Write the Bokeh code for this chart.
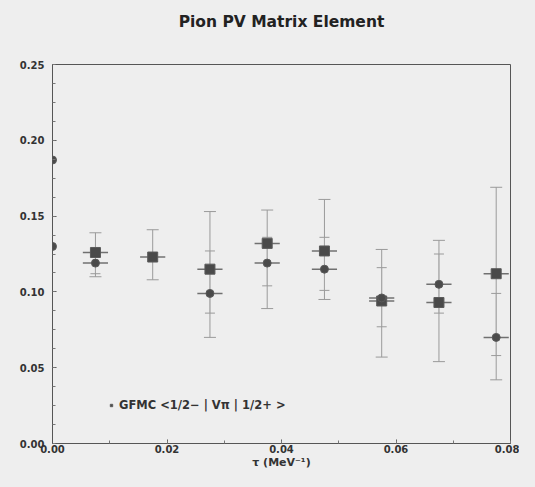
from bokeh.plotting import figure
from bokeh.models import (Range1d, FixedTicker, NumeralTickFormatter, ColumnDataSource,
                          Whisker, TeeHead, Legend, LegendItem, LinearAxis)
from bokeh.embed import file_html
from bokeh.resources import INLINE

# ---- data ----
tau_sq = [0.0075, 0.0175, 0.0275, 0.0375, 0.0475, 0.0575, 0.0675, 0.0775]
val_sq = [0.126, 0.123, 0.115, 0.132, 0.127, 0.094, 0.093, 0.112]
lo_sq = [0.110, 0.108, 0.070, 0.089, 0.095, 0.057, 0.054, 0.042]
hi_sq = [0.139, 0.141, 0.153, 0.154, 0.161, 0.128, 0.134, 0.169]

tau_ci = [0.0075, 0.0275, 0.0375, 0.0475, 0.0575, 0.0675, 0.0775]
val_ci = [0.119, 0.099, 0.119, 0.115, 0.096, 0.105, 0.070]
lo_ci = [0.112, 0.086, 0.104, 0.101, 0.077, 0.086, 0.058]
hi_ci = [0.128, 0.127, 0.136, 0.136, 0.116, 0.125, 0.099]

tau_zero = [0.0, 0.0]
val_zero = [0.187, 0.130]

tau_half_width = 0.0022

y_ticks = [0.00, 0.05, 0.10, 0.15, 0.20, 0.25]
x_ticks = [0.00, 0.02, 0.04, 0.06, 0.08]

title_text = "Pion PV Matrix Element"

FONT = "DejaVu Sans"
BG = "#eeeeee"
INK = "#333333"

p = figure(width=519, height=471, output_backend="svg", toolbar_location=None,
           x_range=Range1d(0, 0.08), y_range=Range1d(0, 0.25),
           min_border_left=52, min_border_right=9, min_border_top=64, min_border_bottom=28)
p.background_fill_color = BG
p.border_fill_color = BG
p.outline_line_color = "#555555"
p.outline_line_width = 1
p.grid.visible = False

xax = p.below[0]
yax = p.left[0]

for ax in (xax, yax):
    ax.axis_line_color = "#555555"
    ax.major_tick_in = 4
    ax.major_tick_out = 0
    ax.minor_tick_in = 3
    ax.minor_tick_out = 0
    ax.major_tick_line_color = "#555555"
    ax.minor_tick_line_color = "#777777"
    ax.major_label_text_font = FONT
    ax.major_label_text_font_size = "10px"
    ax.major_label_text_font_style = "bold"
    ax.major_label_text_color = INK
    ax.formatter = NumeralTickFormatter(format="0.00")

yax.ticker = FixedTicker(ticks=y_ticks, minor_ticks=[i * 0.0125 for i in range(21)])
yax.major_label_standoff = 8
xax.ticker = FixedTicker(ticks=x_ticks, minor_ticks=[i * 0.01 for i in range(9)])
xax.major_label_standoff = 1
xax.axis_label = "τ (MeV⁻¹)"
xax.axis_label_text_font = FONT
xax.axis_label_text_font_size = "11px"
xax.axis_label_text_font_style = "bold"
xax.axis_label_text_color = INK
xax.axis_label_standoff = 0

# title: the label of a bare axis above the frame
top = LinearAxis(ticker=FixedTicker(ticks=[]), axis_label=title_text,
                 axis_line_alpha=0, major_tick_in=0, major_tick_out=0,
                 minor_tick_in=0, minor_tick_out=0,
                 axis_label_standoff=34, axis_label_text_font=FONT,
                 axis_label_text_font_size="15.5px", axis_label_text_font_style="bold",
                 axis_label_text_color="#222222")
p.add_layout(top, "above")

src_sq = ColumnDataSource(dict(
    x=tau_sq, y=val_sq, lo=lo_sq, hi=hi_sq,
    xl=[t - tau_half_width for t in tau_sq], xr=[t + tau_half_width for t in tau_sq]))
src_ci = ColumnDataSource(dict(
    x=tau_ci, y=val_ci, lo=lo_ci, hi=hi_ci,
    xl=[t - tau_half_width for t in tau_ci], xr=[t + tau_half_width for t in tau_ci]))

# vertical error bars
p.add_layout(Whisker(source=src_sq, base="x", upper="hi", lower="lo", dimension="height",
                     line_color="#9a9a9a", line_width=1,
                     upper_head=TeeHead(size=12, line_color="#9a9a9a"),
                     lower_head=TeeHead(size=12, line_color="#9a9a9a")))
p.add_layout(Whisker(source=src_ci, base="x", upper="hi", lower="lo", dimension="height",
                     line_color="#aaaaaa", line_width=1, line_alpha=0.6,
                     upper_head=TeeHead(size=10, line_color="#9a9a9a"),
                     lower_head=TeeHead(size=10, line_color="#9a9a9a")))
# horizontal bars through the points
p.segment(x0="xl", y0="y", x1="xr", y1="y", source=src_sq, line_color="#707070", line_width=1.5)
p.segment(x0="xl", y0="y", x1="xr", y1="y", source=src_ci, line_color="#707070", line_width=1.5)

r_sq = p.scatter("x", "y", source=src_sq, marker="square", size=10,
                 fill_color="#4a4a4a", line_color="#5a5a5a")
p.scatter("x", "y", source=src_ci, marker="circle", size=8,
          fill_color="#4a4a4a", line_color="#5a5a5a")
p.scatter(tau_zero, val_zero, marker="circle", size=8, fill_color="#4a4a4a", line_color="#5a5a5a")

legend = Legend(items=[LegendItem(label="GFMC <1/2− | Vπ | 1/2+ >", renderers=[r_sq])],
                location=(54, 29), background_fill_alpha=0, border_line_alpha=0,
                label_text_font=FONT, label_text_font_size="11.5px",
                label_text_font_style="bold", label_text_color=INK,
                glyph_width=6, glyph_height=6, label_standoff=5, padding=2, margin=0)
p.add_layout(legend, "center")

html = file_html(p, INLINE)
html = html.replace("<head>", "<head><style>html, body { background: #eeeeee; }</style>", 1)
open("out.html", "w").write(html)
